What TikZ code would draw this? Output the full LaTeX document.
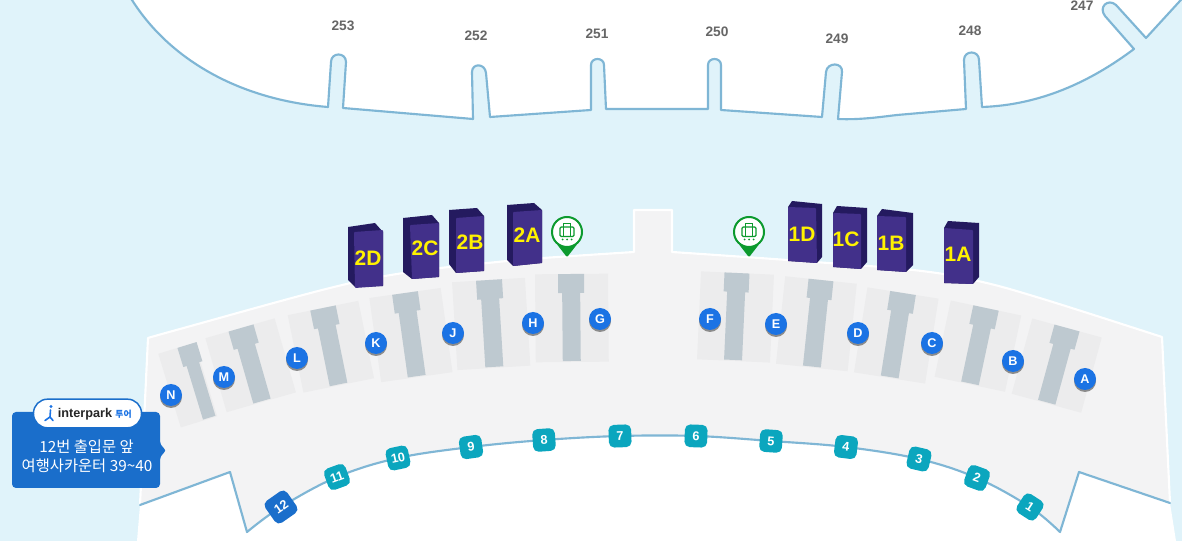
\documentclass[tikz,border=0pt]{standalone}
\usepackage{fontspec}
\setmainfont{Liberation Sans}
\newfontfamily\krfont{Noto Sans CJK KR}
\definecolor{sky}{HTML}{E0F3FA}
\definecolor{linebl}{HTML}{7FB6D5}
\definecolor{bldg}{HTML}{F3F3F4}
\definecolor{baygr}{HTML}{ECECED}
\definecolor{pierbl}{HTML}{BEC9D0}
\definecolor{ltrbl}{HTML}{1B73E4}
\definecolor{gatetl}{HTML}{0BA6BE}
\definecolor{boxbl}{HTML}{1A6ECB}
\definecolor{twrfr}{HTML}{42308A}
\definecolor{twrdk}{HTML}{241A5F}
\definecolor{pingr}{HTML}{0C9A2E}
\definecolor{twryl}{HTML}{FFF200}
\tikzset{
  x=0.75pt,y=-0.75pt,
  edgeline/.style={draw=linebl,line width=1.6pt,line join=round,line cap=round},
  ltrnode/.style={circle,fill=ltrbl,minimum size=16.5pt,inner sep=0pt,text=white,font=\bfseries\fontsize{9.5}{10}\selectfont},
  ltrshadow/.style={circle,fill=black!45,minimum size=16.5pt,inner sep=0pt},
  gatenode/.style={rectangle,rounded corners=4pt,fill=gatetl,minimum size=17pt,inner sep=0pt,text=white,font=\bfseries\fontsize{9.5}{10}\selectfont},
  twrlabel/.style={text=twryl,font=\bfseries\fontsize{15.7}{16}\selectfont,inner sep=0pt},
  numlabel/.style={text=black!60,font=\bfseries\fontsize{10.3}{11}\selectfont,inner sep=0pt},
  boxtext/.style={text=white,font=\krfont\fontsize{11.5}{12}\selectfont,inner sep=0pt},
}
% tx ty angle len bayL bayR headhalf stemhalf headlen
\newcommand\pierbay[9]{%
  \begin{scope}[shift={(#1,#2)},rotate=#3]
    \fill[baygr] (#5,0) rectangle (#6,#4+1);
    \fill[pierbl] (-#7,0) -- (#7,0) -- (#7,#9) -- (#8,#9) -- (#8,#4) -- (-#8,#4) -- (-#8,#9) -- (-#7,#9) -- cycle;
  \end{scope}}
% letter gate
\newcommand\ltr[3]{%
  \node[ltrshadow] (s#1) at (#2,#3+2) {};
  \node[ltrnode] (l#1) at (#2,#3) {#1};}
\newcommand\gate[4]{\node[gatenode,rotate=#4] (g#1) at (#2,#3) {#1};}
\newcommand\pinmark[3]{%
  \fill[pingr] (#2-9.5,#3+13) -- (#2-1,#3+24) -- (#2,#3+24.5) -- (#2+1,#3+24) -- (#2+9.5,#3+13) -- cycle;
  \node[circle,draw=pingr,line width=1.5pt,fill=white,minimum size=22.5pt,inner sep=0pt] (#1) at (#2,#3) {};
  \begin{scope}[shift={(#2,#3)},draw=pingr,line width=0.9pt]
    \draw[rounded corners=1pt] (-7,-5) rectangle (7,4.5);
    \draw (-3.2,-5) -- (-3.2,4.5) (3.2,-5) -- (3.2,4.5);
    \draw (-3.5,-5) -- (-3.5,-8.5) -- (3.5,-8.5) -- (3.5,-5);
    \fill[pingr] (-4.5,7.5) circle (1) (0,7.5) circle (1) (4.5,7.5) circle (1);
  \end{scope}}
\begin{document}
\begin{tikzpicture}
\useasboundingbox (0,0) rectangle (1182,541);
\fill[sky] (0,0) rectangle (1182,541);
% upper concourse
\def\upperpath{(124,-10) -- (132,0) .. controls (170,60) and (240,100) .. (328,107)
  -- (331,62) .. controls (331,52) and (346,52) .. (346,62) -- (343,108)
  -- (473,119) -- (472,72) .. controls (472,63) and (485,63) .. (486,73) -- (490,117)
  -- (591,110) -- (591,65) .. controls (591,57) and (604,57) .. (604,65) -- (606,109)
  -- (708,109) -- (708,65) .. controls (708,57) and (721,57) .. (721,65) -- (721,110)
  -- (822,117) -- (826,72) .. controls (827,62) and (843,62) .. (842,72) -- (838,119)
  .. controls (860,120) and (880,117) .. (897,115) -- (966,109) -- (964,60) .. controls (964,50) and (979,50) .. (979,60) -- (982,107)
  .. controls (1040,105) and (1090,82) .. (1134,49)
  -- (1105,16) .. controls (1098,7) and (1108,-2) .. (1116,5)
  -- (1146,38) -- (1190,-10)}
\fill[white] \upperpath -- cycle;
\draw[edgeline] \upperpath;
% lower white apron
\fill[white] (140,505) -- (137,541) -- (1176,541) -- (1170,503) -- (1079,472) -- (650,420) -- (230,472) -- cycle;
% terminal building
\filldraw[fill=bldg,draw=none] plot[smooth,tension=0.6] coordinates {(148,338) (180,329) (330,288) (410,272) (507,261) (543,258) (634,252)}
  -- (634,210) -- (672,210) -- (672,252)
  -- plot[smooth,tension=0.6] coordinates {(672,252) (787,260) (913,270) (978,281) (1043,299) (1162,337)}
  -- (1170,503) -- (1079,472) -- (1060,532)
  -- plot[smooth,tension=0.6] coordinates {(1060,532) (1030,507) (977,478) (919,459) (846,447) (771,441) (696,436) (620,436) (544,440) (471,447) (398,458) (337,477) (281,507) (247,532)}
  -- (230,472) -- (140,505) -- cycle;
\draw[white,line width=1.6pt,line join=round] (140,505) -- (148,338) -- plot[smooth,tension=0.6] coordinates {(148,338) (180,329) (330,288) (410,272) (507,261) (543,258) (634,252)}
  -- (634,210) -- (672,210) -- (672,252)
  -- plot[smooth,tension=0.6] coordinates {(672,252) (787,260) (913,270) (978,281) (1043,299) (1162,337)}
  -- (1170,503);
\draw[edgeline] (1170,503) -- (1079,472) -- (1060,532)
  -- plot[smooth,tension=0.6] coordinates {(1060,532) (1030,507) (977,478) (919,459) (846,447) (771,441) (696,436) (620,436) (544,440) (471,447) (398,458) (337,477) (281,507) (247,532)}
  -- (230,472) -- (140,505);
% piers
\pierbay{187}{345}{17}{76}{-30}{8}{10}{6.5}{20}
\pierbay{241}{328}{16}{76}{-37}{35}{13}{9}{19}
\pierbay{323}{308}{11.5}{78}{-36}{36}{13}{9}{19}
\pierbay{405}{293}{8}{84}{-36}{36}{13}{9}{19}
\pierbay{489}{280}{3.5}{87}{-37}{36}{13}{9}{19}
\pierbay{571}{274}{0.5}{87}{-36}{37}{13}{9}{19}
\pierbay{737}{273}{-2.6}{87}{-36}{37}{12.5}{9}{19}
\pierbay{821}{280}{-6}{87}{-36}{36}{12.5}{9}{19}
\pierbay{903}{293}{-9}{85}{-36}{36}{13}{9}{19}
\pierbay{986}{308}{-12}{77}{-36}{36}{13}{9}{19}
\pierbay{1067}{328}{-15.3}{77}{-36}{36}{13}{9}{19}
% towers
\fill[twrdk] (348,227) -- (375,223) -- (383,232) -- (383,286) -- (355,287) -- (348,280) -- cycle;
\fill[twrfr,rounded corners=0.6pt] (354,232) -- (383,230) -- (383,286) -- (355,288) -- cycle;
\fill[twrdk] (403,218) -- (432,215) -- (439,223) -- (439,277) -- (412,279) -- (403,272) -- cycle;
\fill[twrfr,rounded corners=0.6pt] (410,225) -- (439,223) -- (439,277) -- (412,279) -- cycle;
\fill[twrdk] (449,210) -- (477,208) -- (484,216) -- (484,271) -- (456,273) -- (449,264) -- cycle;
\fill[twrfr,rounded corners=0.6pt] (456,218) -- (484,216) -- (484,271) -- (456,273) -- cycle;
\fill[twrdk] (507,205) -- (534,203) -- (542,210) -- (542,263) -- (513,266) -- (507,260) -- cycle;
\fill[twrfr,rounded corners=0.6pt] (513,212) -- (542,210) -- (542,263) -- (513,266) -- cycle;
\fill[twrdk] (792,201) -- (822,204) -- (822,257) -- (817,263) -- (788,261) -- (788,207) -- cycle;
\fill[twrfr,rounded corners=0.6pt] (788,207) -- (816,208) -- (817,263) -- (788,261) -- cycle;
\fill[twrdk] (837,206) -- (867,208) -- (867,262) -- (861,269) -- (833,267) -- (833,213) -- cycle;
\fill[twrfr,rounded corners=0.6pt] (833,213) -- (861,214) -- (861,269) -- (833,267) -- cycle;
\fill[twrdk] (882,209) -- (913,213) -- (913,265) -- (906,272) -- (877,270) -- (877,216) -- cycle;
\fill[twrfr,rounded corners=0.6pt] (877,216) -- (906,217) -- (906,272) -- (877,270) -- cycle;
\fill[twrdk] (948,221) -- (979,223) -- (979,277) -- (973,284) -- (944,283) -- (944,228) -- cycle;
\fill[twrfr,rounded corners=0.6pt] (944,228) -- (973,230) -- (973,284) -- (944,283) -- cycle;
\node[twrlabel] (t2D) at (368,258) {2D};
\node[twrlabel] (t2C) at (425,248) {2C};
\node[twrlabel] (t2B) at (470,242) {2B};
\node[twrlabel] (t2A) at (527,235) {2A};
\node[twrlabel] (t1D) at (802,234) {1D};
\node[twrlabel] (t1C) at (846,239) {1C};
\node[twrlabel] (t1B) at (891,243) {1B};
\node[twrlabel] (t1A) at (958,254) {1A};
% pins
\pinmark{pinL}{567}{232}
\pinmark{pinR}{749}{232}
% letter nodes
\ltr{A}{1085}{379}\ltr{B}{1013}{361}\ltr{C}{932}{343}\ltr{D}{858}{333}
\ltr{E}{776}{324}\ltr{F}{710}{319}\ltr{G}{600}{319}\ltr{H}{533}{323}
\ltr{J}{453}{333}\ltr{K}{376}{343}\ltr{L}{297}{358}\ltr{M}{224}{377}\ltr{N}{171}{395}
% gate nodes
\gate{1}{1030}{507}{-33}\gate{2}{977}{478}{-20}\gate{3}{919}{459}{-13}
\gate{4}{846}{447}{-7}\gate{5}{771}{441}{-4}\gate{6}{696}{436}{-2}
\gate{7}{620}{436}{2}\gate{8}{544}{440}{4}\gate{9}{471}{447}{8}
\gate{10}{398}{458}{12}\gate{11}{337}{477}{20}
\node[gatenode,fill=boxbl,minimum size=20pt,rotate=35] (g12) at (281,507) {12};
% concourse numbers
\node[numlabel] (n253) at (343,26) {253};
\node[numlabel] (n252) at (476,36) {252};
\node[numlabel] (n251) at (597,34) {251};
\node[numlabel] (n250) at (717,32) {250};
\node[numlabel] (n249) at (837,39) {249};
\node[numlabel] (n248) at (970,31) {248};
\node[numlabel] (n247) at (1082,6) {247};
% callout
\fill[boxbl,rounded corners=3pt] (12,412) -- (160,412) -- (160,445) -- (167,450.5) -- (160,456) -- (160,488) -- (12,488) -- cycle;
\node[draw=boxbl,line width=1.1pt,fill=white,rounded corners=10.5pt,minimum width=81pt,minimum height=21.5pt,inner sep=0pt] (pill) at (87.5,413.5) {};
\node[inner sep=0pt,font=\bfseries\fontsize{9.5}{10}\selectfont,text=black!85] (ip) at (85,414) {interpark};
\node[inner sep=0pt,font=\krfont\bfseries\fontsize{6.6}{7}\selectfont,text=ltrbl] (tour) at (123.5,414.5) {투어};
\draw[ltrbl,line width=1.2pt,line cap=round] (50.5,410) -- (50,417) -- (53,420.5);
\draw[ltrbl,line width=1.2pt,line cap=round] (50,417) -- (45,420.5);
\fill[ltrbl] (51,406.5) circle (1.7);
\node[boxtext] (cal1) at (86.5,447) {12번 출입문 앞};
\node[boxtext] (cal2) at (87,466) {여행사카운터 39\string~40};
\end{tikzpicture}
\end{document}
